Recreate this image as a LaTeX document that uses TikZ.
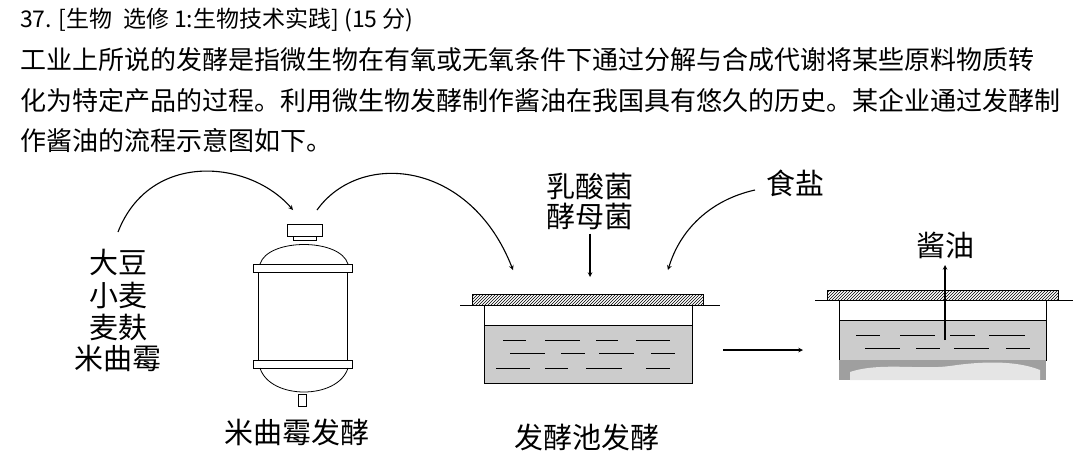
\documentclass[tikz,border=0pt]{standalone}
\usepackage{fontspec}
\setmainfont{Noto Sans CJK SC}
\usetikzlibrary{patterns}
\tikzset{
  lbl/.style={font=\fontsize{29}{31}\selectfont, inner sep=0pt},
  txt/.style={font=\fontsize{26}{28}\selectfont, inner sep=0pt, anchor=west},
  flow/.style={-stealth, line width=1.1pt},
  liquid/.style={fill=gray!40, draw=black, line width=0.8pt},
}
\begin{document}
\begin{tikzpicture}[x=1pt,y=-1pt]
            \useasboundingbox (0,0) rectangle (1080,472);
            % question text
            \node[txt, font=\fontsize{23}{25}\selectfont] (title) at (20,20) {37. [生物\ \ 选修 1:生物技术实践] (15 分)};
            \node[txt] (l1) at (20,60) {工业上所说的发酵是指微生物在有氧或无氧条件下通过分解与合成代谢将某些原料物质转};
            \node[txt] (l2) at (20,101) {化为特定产品的过程。利用微生物发酵制作酱油在我国具有悠久的历史。某企业通过发酵制};
            \node[txt] (l3) at (20,141) {作酱油的流程示意图如下。};

            % raw materials
            \node[lbl] (soy) at (118,262) {大豆};
            \node[lbl] (wheat) at (118,295) {小麦};
            \node[lbl] (bran) at (118,327) {麦麸};
            \node[lbl] (mold) at (118,358) {米曲霉};

            % fermenter
            \draw[line width=0.8pt] (287,224) rectangle (322,236);
            \draw[line width=0.8pt] (293,236) rectangle (316,240);
            \draw[line width=0.8pt] (260,264) .. controls (268,238) and (340,238) .. (348,264);
            \draw[line width=0.8pt] (253,264) rectangle (352,272);
            \draw[line width=0.8pt] (258,272) rectangle (347,360);
            \draw[line width=0.8pt] (253,360) rectangle (352,368);
            \draw[line width=0.8pt] (260,368) .. controls (270,400) and (338,400) .. (348,368);
            \draw[line width=0.8pt] (298,394) rectangle (306,406);
            \node[lbl] (ferm) at (297,432) {米曲霉发酵};

            % tank 1
            \draw[line width=0.8pt] (460,305) -- (720,305);
            \draw[line width=0.8pt, pattern=north east lines] (472,294) rectangle (703,305);
            \draw[liquid] (484,325) rectangle (692,383);
            \draw[line width=0.8pt] (484,305) -- (484,325) (692,305) -- (692,325);
            \foreach \a/\b in {503/526,545/580,596/618,636/670} \draw[line width=0.8pt] (\a,340) -- (\b,340);
            \foreach \a/\b in {510/545,561/585,599/634,651/675} \draw[line width=0.8pt] (\a,353) -- (\b,353);
            \foreach \a/\b in {496/530,545/568,586/622,646/670} \draw[line width=0.8pt] (\a,368) -- (\b,368);
            \node[lbl] (pool) at (587,437) {发酵池发酵};
            \node[lbl] (lab) at (590,186) {乳酸菌};
            \node[lbl] (yeast) at (590,216) {酵母菌};
            \node[lbl] (salt) at (795,183) {食盐};
            \coordinate (t1in) at (590,277);
            \coordinate (t1l) at (513,270);
            \coordinate (t1r) at (668,270);

            % tank 2
            \draw[line width=0.8pt] (815,300) -- (1073,300);
            \draw[line width=0.8pt, pattern=north east lines] (827,290) rectangle (1058,300);
            \draw[liquid] (839,320) rectangle (1046,360);
            \fill[gray!75] (839,360) rectangle (1046,380);
            \fill[gray!20] (850,372) .. controls (880,362) and (920,370) .. (950,366) .. controls (990,360) and (1020,362) .. (1040,370) -- (1040,380) -- (850,380) -- cycle;
            \draw[line width=0.8pt] (839,300) -- (839,320) (1046,300) -- (1046,320);
            \foreach \a/\b in {856/880,900/935,950/975,989/1025} \draw[line width=0.8pt] (\a,335) -- (\b,335);
            \foreach \a/\b in {865/900,916/940,954/989,1006/1030} \draw[line width=0.8pt] (\a,348) -- (\b,348);
            \node[lbl] (sauce) at (945,245) {酱油};
            \coordinate (t2in) at (945,340);

            % flow arrows
            \draw[flow] (118,232) .. controls (150,150) and (250,160) .. (293,210);
            \draw[flow] (317,210) .. controls (360,150) and (470,160) .. (t1l);
            \draw[flow] (yeast.south) ++(0,4) -- (t1in);
            \draw[flow] (755,190) .. controls (710,200) and (680,230) .. (t1r);
            \draw[flow] (723,350) -- (803,350);
            \draw[flow] (t2in) -- (945,265);
\end{tikzpicture}
\end{document}
